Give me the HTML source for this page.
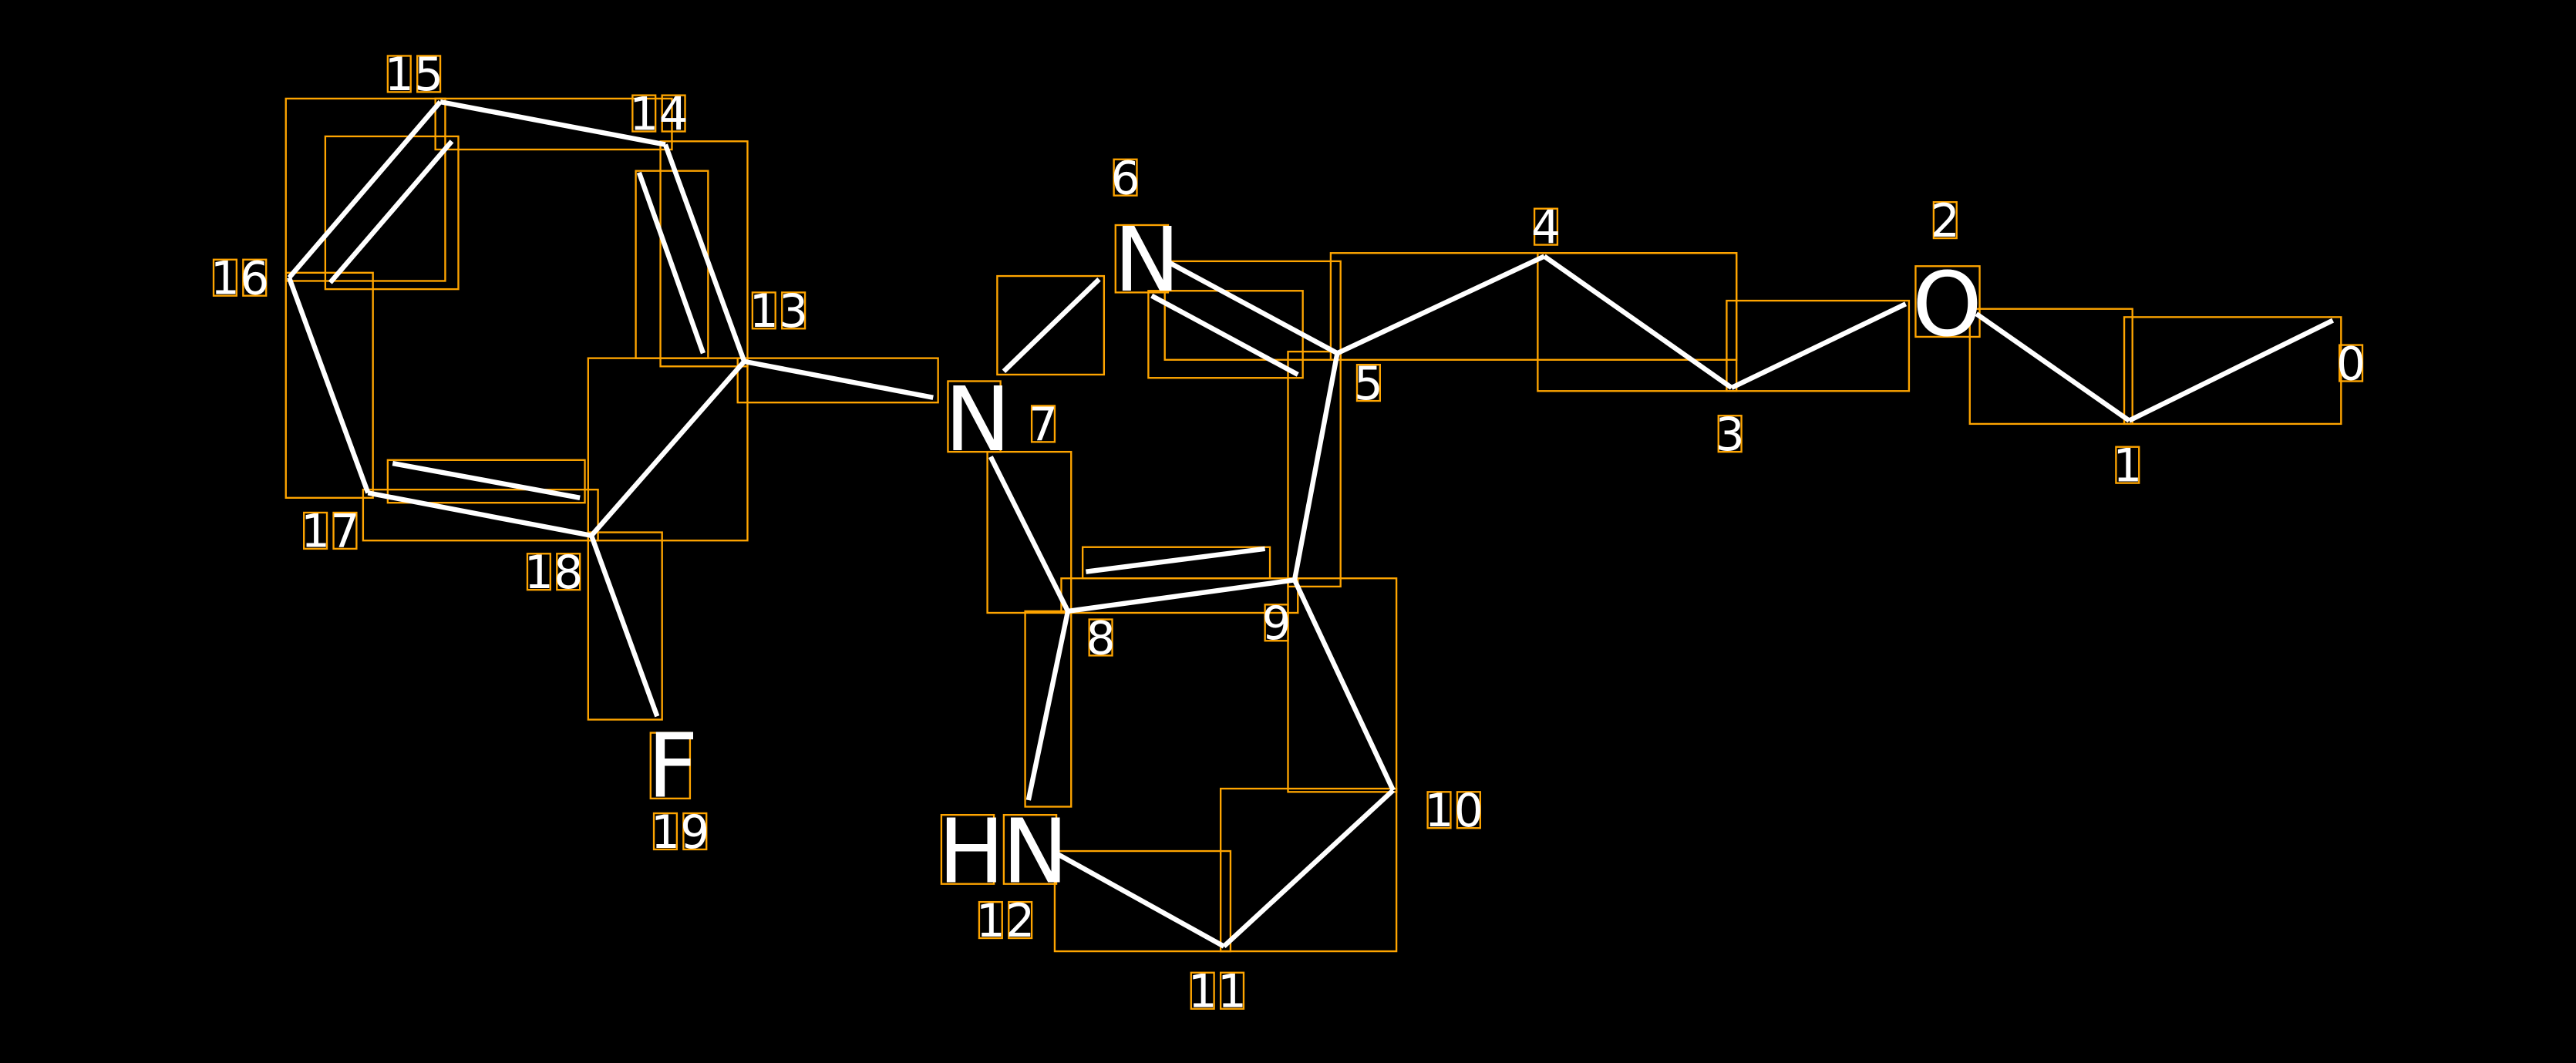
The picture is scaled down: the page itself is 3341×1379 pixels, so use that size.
<!DOCTYPE html>
<html><head><meta charset="utf-8"><style>
html,body{margin:0;padding:0;background:#000;width:3341px;height:1379px;overflow:hidden}
svg{display:block}
text{font-family:"DejaVu Sans","Liberation Sans",sans-serif;fill:#fff}
</style></head><body>
<svg width="3341" height="1379" viewBox="0 0 1568 647" preserveAspectRatio="none" xmlns="http://www.w3.org/2000/svg">
<rect x="0" y="0" width="1568" height="647" fill="#000"/>
<g fill="none" stroke="#ffa500" stroke-width="1.1">
<rect x="174" y="60" width="97" height="111"/>
<rect x="198" y="83" width="81" height="93"/>
<rect x="265" y="60" width="144" height="31"/>
<rect x="402" y="86" width="53" height="137"/>
<rect x="387" y="104" width="44" height="114"/>
<rect x="358" y="218" width="97" height="111"/>
<rect x="449" y="218" width="122" height="27"/>
<rect x="174" y="166" width="53" height="137"/>
<rect x="236" y="280" width="120" height="26"/>
<rect x="221" y="298" width="143" height="31"/>
<rect x="358" y="324" width="45" height="114"/>
<rect x="607" y="168" width="65" height="60"/>
<rect x="699" y="177" width="94" height="53"/>
<rect x="709" y="159" width="107" height="60"/>
<rect x="810" y="154" width="247" height="65"/>
<rect x="784" y="214" width="32" height="143"/>
<rect x="601" y="275" width="51" height="98"/>
<rect x="659" y="333" width="114" height="19"/>
<rect x="646" y="352" width="144" height="21"/>
<rect x="624" y="372" width="28" height="119"/>
<rect x="784" y="352" width="66" height="130"/>
<rect x="743" y="480" width="107" height="99"/>
<rect x="642" y="518" width="107" height="61"/>
<rect x="936" y="154" width="121" height="84"/>
<rect x="1051" y="183" width="111" height="55"/>
<rect x="1199" y="188" width="99" height="70"/>
<rect x="1293" y="193" width="132" height="65"/>
<rect x="679" y="137" width="32" height="41"/>
<rect x="577" y="232" width="32" height="43"/>
<rect x="573" y="496" width="32" height="42"/>
<rect x="611" y="496" width="32" height="42"/>
<rect x="1166" y="162" width="39" height="43"/>
<rect x="396" y="446" width="24" height="40"/>
</g>
<g stroke="#fff" stroke-width="3" stroke-linecap="butt" fill="none">
<line x1="1420" y1="195" x2="1296" y2="256"/>
<line x1="1296" y1="256" x2="1203" y2="191"/>
<line x1="1160" y1="185" x2="1054" y2="236"/>
<line x1="1054" y1="236" x2="940" y2="156"/>
<line x1="940" y1="156" x2="814" y2="215"/>
<line x1="814" y1="215" x2="712" y2="160"/>
<line x1="790" y1="228" x2="701" y2="180"/>
<line x1="814" y1="215" x2="788" y2="353"/>
<line x1="788" y1="353" x2="650" y2="372"/>
<line x1="661" y1="348" x2="770" y2="334"/>
<line x1="650" y1="372" x2="603" y2="278"/>
<line x1="611" y1="226" x2="669" y2="170"/>
<line x1="650" y1="372" x2="626" y2="487"/>
<line x1="644" y1="520" x2="745" y2="576"/>
<line x1="745" y1="576" x2="848" y2="481"/>
<line x1="848" y1="481" x2="788" y2="353"/>
<line x1="453" y1="220" x2="405" y2="88"/>
<line x1="428" y1="215" x2="389" y2="105"/>
<line x1="405" y1="88" x2="268" y2="62"/>
<line x1="268" y1="62" x2="176" y2="169"/>
<line x1="275" y1="86" x2="201" y2="172"/>
<line x1="176" y1="169" x2="224" y2="300"/>
<line x1="224" y1="300" x2="360" y2="326"/>
<line x1="239" y1="282" x2="353" y2="303"/>
<line x1="360" y1="326" x2="453" y2="220"/>
<line x1="360" y1="326" x2="400" y2="436"/>
<line x1="453" y1="220" x2="568" y2="242"/>
</g>
<g font-size="54">
<text x="678" y="177">N</text>
<text x="575" y="274">N</text>
<text x="571" y="537">H</text>
<text x="610" y="537">N</text>
<text x="1164" y="204">O</text>
<text x="394" y="485">F</text>
</g>
<g font-size="28" text-anchor="middle">
<g fill="none" stroke="#ffa500" stroke-width="1.1">
<rect x="236" y="34" width="14" height="22"/><rect x="254" y="34" width="14" height="22"/>
<rect x="385" y="58" width="14" height="22"/><rect x="403" y="58" width="14" height="22"/>
<rect x="458" y="178" width="14" height="22"/><rect x="476" y="178" width="14" height="22"/>
<rect x="130" y="158" width="14" height="22"/><rect x="148" y="158" width="14" height="22"/>
<rect x="185" y="312" width="14" height="22"/><rect x="203" y="312" width="14" height="22"/>
<rect x="321" y="337" width="14" height="22"/><rect x="339" y="337" width="14" height="22"/>
<rect x="398" y="495" width="14" height="22"/><rect x="416" y="495" width="14" height="22"/>
<rect x="596" y="549" width="14" height="22"/><rect x="614" y="549" width="14" height="22"/>
<rect x="725" y="592" width="14" height="22"/><rect x="743" y="592" width="14" height="22"/>
<rect x="869" y="482" width="14" height="22"/><rect x="887" y="482" width="14" height="22"/>
<rect x="770" y="368" width="14" height="22"/>
<rect x="663" y="377" width="14" height="22"/>
<rect x="628" y="247" width="14" height="22"/>
<rect x="826" y="222" width="14" height="22"/>
<rect x="678" y="97" width="14" height="22"/>
<rect x="934" y="127" width="14" height="22"/>
<rect x="1046" y="253" width="14" height="22"/>
<rect x="1177" y="123" width="14" height="22"/>
<rect x="1288" y="272" width="14" height="22"/>
<rect x="1424" y="210" width="14" height="22"/>
</g>
<text x="243" y="55">1</text><text x="261" y="55">5</text>
<text x="392" y="79">1</text><text x="410" y="79">4</text>
<text x="465" y="199">1</text><text x="483" y="199">3</text>
<text x="137" y="179">1</text><text x="155" y="179">6</text>
<text x="192" y="333">1</text><text x="210" y="333">7</text>
<text x="328" y="358">1</text><text x="346" y="358">8</text>
<text x="405" y="516">1</text><text x="423" y="516">9</text>
<text x="603" y="570">1</text><text x="621" y="570">2</text>
<text x="732" y="613">1</text><text x="750" y="613">1</text>
<text x="876" y="503">1</text><text x="894" y="503">0</text>
<text x="777" y="389">9</text>
<text x="670" y="398">8</text>
<text x="635" y="268">7</text>
<text x="833" y="243">5</text>
<text x="685" y="118">6</text>
<text x="941" y="148">4</text>
<text x="1053" y="274">3</text>
<text x="1184" y="144">2</text>
<text x="1295" y="293">1</text>
<text x="1431" y="231">0</text>
</g>
</svg>
</body></html>
